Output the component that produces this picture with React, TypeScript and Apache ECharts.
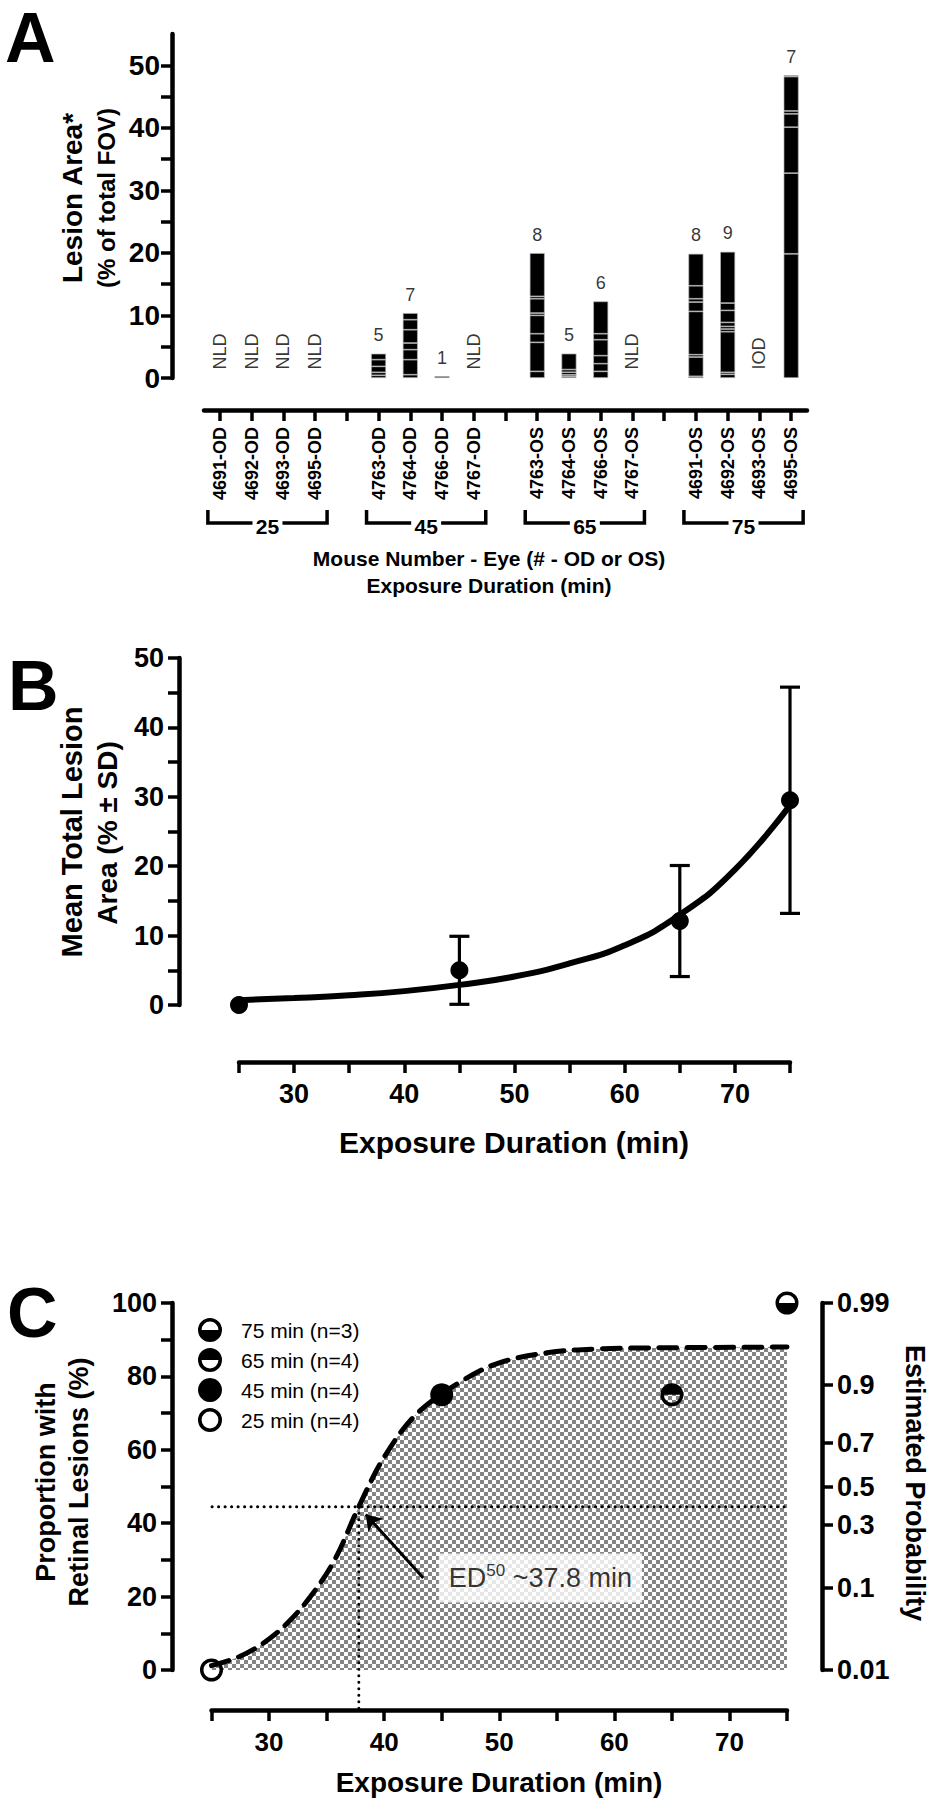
import React, { useEffect, useRef } from 'react';
import * as echarts from 'echarts';

const FONT = "'Liberation Sans', Arial, Helvetica, sans-serif";

// ---------- Panel A ----------
const mouseEyeLabels = [
  '4691-OD', '4692-OD', '4693-OD', '4695-OD', '',
  '4763-OD', '4764-OD', '4766-OD', '4767-OD', '',
  '4763-OS', '4764-OS', '4766-OS', '4767-OS', '',
  '4691-OS', '4692-OS', '4693-OS', '4695-OS',
];
// individual lesion areas (% of FOV), stacked bottom -> top
const lesionSegments: (number[] | null)[] = [
  [], [], [], [], null,
  [0.43, 0.48, 0.95, 1.07, 0.96],
  [0.53, 2.4, 1.6, 1.06, 2.13, 1.6, 1.06],
  [0.3],
  [], null,
  [1.06, 4.64, 1.38, 2.93, 0.37, 2.29, 0.38, 6.92],
  [0.25, 0.25, 0.42, 0.43, 2.55],
  [1.06, 1.23, 1.28, 2.55, 0.96, 5.17],
  [], null,
  [0.27, 3.08, 0.38, 6.92, 1.49, 0.53, 2.08, 5.11],
  [0.59, 0.32, 6.49, 0.43, 0.42, 0.64, 1.92, 1.17, 8.2],
  [],
  [19.86, 12.89, 7.35, 2.13, 0.47, 5.49, 0.21],
];
const absentLabels = [
  'NLD', 'NLD', 'NLD', 'NLD', '',
  '', '', '', 'NLD', '',
  '', '', '', 'NLD', '',
  '', '', 'IOD', '',
];
const groupDurations = ['25', '45', '65', '75'];
const groupSlots = [[0, 3], [5, 8], [10, 13], [15, 18]];
const yTicksA = [0, 5, 10, 15, 20, 25, 30, 35, 40, 45, 50];
const yLabelsA = [0, 10, 20, 30, 40, 50];

// ---------- Panel B ----------
const durations = [25, 45, 65, 75];
const meanLesionArea = [0, 5.0, 12.1, 29.5];
const sdLesionArea = [0, 4.9, 8.0, 16.3];
const fitBx = [25, 30, 35, 40, 45, 50, 55, 60, 65, 70, 75];
const fitBy = [0.7, 1.0, 1.4, 2.0, 2.9, 4.1, 6.0, 8.6, 13.0, 19.5, 28.8];
const yLabelsB = [0, 10, 20, 30, 40, 50];
const xLabelsBC = [30, 40, 50, 60, 70];

// ---------- Panel C ----------
const legendNames = ['75 min (n=3)', '65 min (n=4)', '45 min (n=4)', '25 min (n=4)'];
const legendDurations = [75, 65, 45, 25];
const proportionLesions = [100, 75, 75, 0];
const probitX = [25, 27.4, 29.5, 31.6, 33.6, 35.7, 37.8, 40, 42.9, 46.9, 50, 54.3, 58.6, 64.4, 75];
const probitY = [1.2, 3.6, 7.3, 12.8, 20, 30, 44.5, 58, 70, 79, 83.7, 86.5, 87.5, 87.8, 88];
const ed50 = 37.8;
const ed50Level = 44.5;
const yLabelsC = [0, 20, 40, 60, 80, 100];
const probLabels = ['0.99', '0.9', '0.7', '0.5', '0.3', '0.1', '0.01'];
const probPositions = [100, 77.7, 61.9, 49.9, 39.5, 22.4, 0];

const RING = 'M0,-10A10,10,0,1,1,0,10A10,10,0,1,1,0,-10Z M0,-7A7,7,0,1,0,0,7A7,7,0,1,0,0,-7Z';
const ICON_BOTTOM = 'path://' + RING + ' M7,0A7,7,0,0,1,-7,0Z';
const ICON_TOP = 'path://' + RING + ' M-7,0A7,7,0,0,1,7,0Z';
const ICON_OPEN = 'path://' + RING;
const legendIcons = [ICON_BOTTOM, ICON_TOP, 'circle', ICON_OPEN];

const axLine = { show: true, onZero: false, lineStyle: { color: '#000', width: 4.5 } };
const tick = (extra: any = {}) => ({ show: true, length: 11, lineStyle: { color: '#000', width: 3.5 }, ...extra });
const lbl = (size: number, margin: number, extra: any = {}) => ({
  color: '#000', fontSize: size, fontWeight: 'bold', fontFamily: FONT, margin, ...extra,
});

export default function App() {
  const ref = useRef<HTMLDivElement>(null);
  useEffect(() => {
    document.body.style.margin = '0';
    const chart = echarts.init(ref.current!, null, { renderer: 'svg' });

    const cv = document.createElement('canvas');
    cv.width = 8; cv.height = 8;
    const ctx = cv.getContext('2d')!;
    ctx.fillStyle = '#ffffff'; ctx.fillRect(0, 0, 8, 8);
    ctx.fillStyle = '#858585'; ctx.fillRect(0, 0, 4, 4); ctx.fillRect(4, 4, 4, 4);

    const maxSeg = Math.max(...lesionSegments.map((s) => (s ? s.length : 0)));
    const barSeries: any[] = [];
    for (let k = 0; k < maxSeg; k++) {
      barSeries.push({
        type: 'bar', xAxisIndex: 0, yAxisIndex: 0, stack: 'lesions', barWidth: 15, silent: true,
        data: lesionSegments.map((s) => (s && k < s.length ? s[k] : '-')),
        itemStyle: { color: '#000', borderColor: '#b4b4b4', borderWidth: 0.7 },
      });
    }
    const countData = lesionSegments
      .map((s, i) => (s && s.length ? { value: [i, s.reduce((a, b) => a + b, 0)], count: s.length } : null))
      .filter(Boolean);
    const absentData = absentLabels.map((t, i) => (t ? { value: [i, 0], text: t } : null)).filter(Boolean);

    const pointSeries = legendNames.map((name, i) => ({
      type: 'scatter', name, xAxisIndex: 2, yAxisIndex: 2, silent: true, z: 6,
      symbol: legendIcons[i], symbolSize: 23,
      itemStyle: { color: '#000', opacity: 1 },
      data: [[legendDurations[i], proportionLesions[i]]],
    }));

    const option: any = {
      animation: false,
      textStyle: { fontFamily: FONT, color: '#000' },
      grid: [
        { left: 204, top: 34, width: 603, height: 344 },
        { left: 239, top: 658, width: 551, height: 347 },
        { left: 211.5, top: 1303, width: 575.5, height: 367 },
      ],
      legend: {
        data: legendNames.map((n, i) => ({ name: n, icon: legendIcons[i], itemStyle: { color: '#000', opacity: 1 } })),
        orient: 'vertical', left: 193, top: 1313, itemWidth: 24, itemHeight: 24, itemGap: 6,
        selectedMode: false,
        textStyle: { fontSize: 21, fontFamily: FONT, color: '#000', padding: [0, 0, 0, 14] },
      },
      xAxis: [
        {
          type: 'category', gridIndex: 0, data: mouseEyeLabels, offset: 32,
          axisLine: axLine, axisTick: tick({ alignWithLabel: true, interval: 0 }),
          axisLabel: lbl(18, 17, { interval: 0, rotate: 90 }), splitLine: { show: false },
        },
        {
          type: 'value', gridIndex: 1, min: 25, max: 75, interval: 5, offset: 57,
          axisLine: axLine, axisTick: tick(), splitLine: { show: false },
          axisLabel: lbl(27, 18, { customValues: xLabelsBC }),
        },
        {
          type: 'value', gridIndex: 2, min: 25, max: 75, interval: 5, offset: 40,
          axisLine: axLine, axisTick: tick(), splitLine: { show: false },
          axisLabel: lbl(26, 19, { customValues: xLabelsBC }),
        },
      ],
      yAxis: [
        {
          type: 'value', gridIndex: 0, min: 0, max: 55, interval: 5, offset: 32,
          axisLine: axLine, axisTick: tick({ customValues: yTicksA }), splitLine: { show: false },
          axisLabel: lbl(28, 12, { customValues: yLabelsA }),
        },
        {
          type: 'value', gridIndex: 1, min: 0, max: 50, interval: 5, offset: 60,
          axisLine: axLine, axisTick: tick(), splitLine: { show: false },
          axisLabel: lbl(27, 15, { customValues: yLabelsB }),
        },
        {
          type: 'value', gridIndex: 2, min: 0, max: 100, interval: 10, offset: 39.5,
          axisLine: axLine, axisTick: tick(), splitLine: { show: false },
          axisLabel: lbl(27, 15, { customValues: yLabelsC }),
        },
        {
          type: 'value', gridIndex: 2, position: 'right', min: 0, max: 100, offset: 35,
          axisLine: axLine, axisTick: tick({ customValues: probPositions }), splitLine: { show: false },
          axisLabel: lbl(27, 15, {
            customValues: probPositions,
            formatter: (v: number) => {
              const i = probPositions.findIndex((p) => Math.abs(p - v) < 1e-6);
              return i >= 0 ? probLabels[i] : '';
            },
          }),
        },
      ],
      series: [
        ...barSeries,
        {
          type: 'scatter', xAxisIndex: 0, yAxisIndex: 0, silent: true, symbolSize: 1,
          itemStyle: { color: 'transparent' }, data: countData,
          label: { show: true, position: 'top', distance: 9, fontSize: 18, color: '#000', fontFamily: FONT,
            formatter: (p: any) => String(p.data.count) },
        },
        {
          type: 'scatter', xAxisIndex: 0, yAxisIndex: 0, silent: true, symbolSize: 1,
          itemStyle: { color: 'transparent' }, data: absentData,
          label: { show: true, position: 'top', distance: 8, rotate: 90, align: 'left', verticalAlign: 'middle',
            fontSize: 18, color: '#000', fontFamily: FONT, formatter: (p: any) => p.data.text },
        },
        // Panel B
        {
          type: 'line', xAxisIndex: 1, yAxisIndex: 1, silent: true, smooth: 0.5,
          showSymbol: false, symbol: 'none', data: fitBx.map((x, i) => [x, fitBy[i]]),
          lineStyle: { color: '#000', width: 6 },
        },
        {
          type: 'custom', xAxisIndex: 1, yAxisIndex: 1, silent: true,
          data: durations
            .map((d, i) => [d, meanLesionArea[i] - sdLesionArea[i], meanLesionArea[i] + sdLesionArea[i]])
            .filter((_, i) => sdLesionArea[i] > 0),
          renderItem: (params: any, api: any) => {
            const x = api.value(0);
            const lo = api.coord([x, api.value(1)]);
            const hi = api.coord([x, api.value(2)]);
            const hw = 10;
            const st = { stroke: '#000', lineWidth: 3.2 };
            return {
              type: 'group',
              children: [
                { type: 'line', shape: { x1: lo[0], y1: lo[1], x2: hi[0], y2: hi[1] }, style: st },
                { type: 'line', shape: { x1: hi[0] - hw, y1: hi[1], x2: hi[0] + hw, y2: hi[1] }, style: st },
                { type: 'line', shape: { x1: lo[0] - hw, y1: lo[1], x2: lo[0] + hw, y2: lo[1] }, style: st },
              ],
            };
          },
        },
        {
          type: 'scatter', xAxisIndex: 1, yAxisIndex: 1, silent: true, symbolSize: 18, z: 5,
          itemStyle: { color: '#000', opacity: 1 }, data: durations.map((d, i) => [d, meanLesionArea[i]]),
        },
        // Panel C
        {
          type: 'line', xAxisIndex: 2, yAxisIndex: 2, silent: true, smooth: 0.35,
          showSymbol: false, symbol: 'none', z: 3,
          data: probitX.map((x, i) => [x, probitY[i]]),
          lineStyle: { color: '#000', width: 5, type: [18, 10.3], cap: 'round' },
          areaStyle: { color: { image: cv, repeat: 'repeat', imageWidth: 8, imageHeight: 8 }, opacity: 1 },
        },
        {
          type: 'line', xAxisIndex: 2, yAxisIndex: 2, silent: true, clip: false, showSymbol: false, symbol: 'none', z: 4,
          data: [[21.66, ed50Level], [77.4, ed50Level]],
          lineStyle: { color: '#000', width: 3, type: [0.1, 6.4], cap: 'round' },
        },
        {
          type: 'line', xAxisIndex: 2, yAxisIndex: 2, silent: true, clip: false, showSymbol: false, symbol: 'none', z: 4,
          data: [[ed50, ed50Level], [ed50, -10.9]],
          lineStyle: { color: '#000', width: 3, type: [0.1, 6.4], cap: 'round' },
          markLine: {
            silent: true, symbol: ['none', 'arrow'], symbolSize: 15, animation: false,
            label: { show: false },
            lineStyle: { color: '#000', width: 3, type: 'solid' },
            data: [[{ coord: [43.4, 25.1] }, { coord: [38.4, 42.4] }]],
          },
        },
        ...pointSeries,
        {
          type: 'scatter', xAxisIndex: 2, yAxisIndex: 2, silent: true, symbolSize: 1, z: 7,
          itemStyle: { color: 'transparent' },
          data: [[53.58, 25.07]],
          label: {
            show: true, position: 'inside', backgroundColor: '#fff', padding: [9, 10, 9, 10],
            formatter: '{a|ED}{s|50}{a| ~37.8 min}',
            rich: {
              a: { fontSize: 27, fontFamily: FONT, color: '#000', lineHeight: 31 },
              s: { fontSize: 17, fontFamily: FONT, color: '#000', verticalAlign: 'top', lineHeight: 31 },
            },
          },
        },
      ],
    };
    chart.setOption(option);

    const t = (text: string, x: number, y: number, size: number, extra: any = {}, rot = 0) => ({
      type: 'text', x, y, rotation: rot, silent: true,
      style: { text, fontSize: size, fontWeight: 'bold', fontFamily: FONT, fill: '#000',
        align: 'center', verticalAlign: 'middle', ...extra },
    });
    const g: any[] = [
      t('A', 5, 38, 70, { align: 'left' }),
      t('B', 8, 686, 70, { align: 'left' }),
      t('C', 7, 1313, 70, { align: 'left' }),
      t('Lesion Area*', 72, 198, 28, {}, Math.PI / 2),
      t('(% of total FOV)', 106, 198, 24, {}, Math.PI / 2),
      t('Mouse Number - Eye (# - OD or OS)', 489, 558, 21),
      t('Exposure Duration (min)', 489, 585, 21),
      t('Mean Total Lesion', 72, 832, 29, {}, Math.PI / 2),
      t('Area (% \u00b1 SD)', 107, 833, 28, {}, Math.PI / 2),
      t('Exposure Duration (min)', 514, 1142, 30),
      t('Proportion with', 46, 1482, 27, {}, Math.PI / 2),
      t('Retinal Lesions (%)', 79, 1482, 27, {}, Math.PI / 2),
      t('Estimated Probability', 915, 1483, 27, {}, -Math.PI / 2),
      t('Exposure Duration (min)', 499, 1782, 28),
    ];
    groupSlots.forEach(([a, b], gi) => {
      const x0 = (chart.convertToPixel({ xAxisIndex: 0 }, a) as number) - 12;
      const x1 = (chart.convertToPixel({ xAxisIndex: 0 }, b) as number) + 12;
      const mid = (x0 + x1) / 2;
      const st = { stroke: '#000', lineWidth: 3.5, fill: null };
      g.push({ type: 'polyline', silent: true, shape: { points: [[x0, 510], [x0, 523], [mid - 15, 523]] }, style: st });
      g.push({ type: 'polyline', silent: true, shape: { points: [[mid + 15, 523], [x1, 523], [x1, 510]] }, style: st });
      g.push(t(groupDurations[gi], mid, 526, 21));
    });
    chart.setOption({ graphic: g });

    return () => chart.dispose();
  }, []);
  return <div ref={ref} style={{ width: 931, height: 1800 }} />;
}
